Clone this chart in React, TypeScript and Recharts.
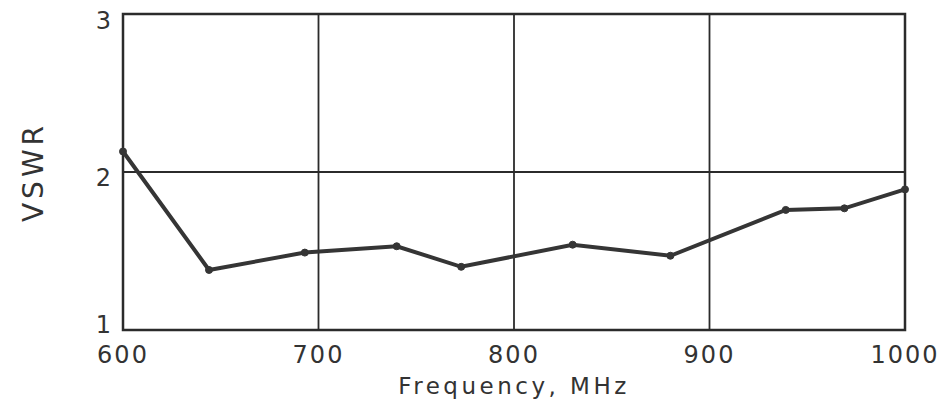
import { CartesianGrid, Label, Line, LineChart, ReferenceArea, XAxis, YAxis } from 'recharts'

// frequency in MHz, measured VSWR
const frequency = [600, 644, 693, 740, 773, 830, 880, 939, 969, 1000]
const vswr = [2.13, 1.38, 1.49, 1.53, 1.4, 1.54, 1.47, 1.76, 1.77, 1.89]

const freqTicks = [600, 700, 800, 900, 1000]
const vswrTicks = [1, 2, 3]

const data = frequency.map((f, i) => ({ f, v: vswr[i] }))

const ink = '#2b2b2b'
const font = '"DejaVu Sans", sans-serif'

// the lowest label sits a bit higher so it clears "600" below it
function VswrTick(props: any) {
  const { x, y, payload } = props
  const dy = payload.value === 1 ? -5 : payload.value === 3 ? 7 : 6
  return (
    <text x={x} y={y + dy} textAnchor="end" dominantBaseline="central" fill="#333" fontSize={24} fontFamily={font}>
      {payload.value}
    </text>
  )
}

export default function App() {
  return (
    <div style={{ position: 'absolute', left: 0, top: 0, background: '#fff' }}>
      <LineChart width={949} height={405} data={data} margin={{ top: 14, right: 44, bottom: 45, left: 0 }}>
        <CartesianGrid stroke={ink} strokeWidth={1.8} />
        <XAxis
          dataKey="f"
          type="number"
          domain={[600, 1000]}
          ticks={freqTicks}
          tickSize={0}
          tickMargin={16}
          axisLine={false}
          tick={{ fill: '#333', fontSize: 24, fontFamily: font, letterSpacing: 2 }}
          height={30}
        >
          <Label
            value="Frequency, MHz"
            position="bottom"
            offset={18}
            style={{ fill: '#333', fontSize: 23, fontFamily: font, letterSpacing: 3.5 }}
          />
        </XAxis>
        <YAxis
          type="number"
          domain={[1, 3]}
          ticks={vswrTicks}
          tickSize={0}
          tickMargin={12}
          axisLine={false}
          width={123}
          tick={<VswrTick />}
        >
          <Label
            content={(props: any) => {
              const vb = props.viewBox || { x: 0, y: 14, height: 316 }
              const cx = vb.x + 33
              const cy = vb.y + vb.height / 2
              return (
                <text
                  x={cx}
                  y={cy}
                  transform={`rotate(-90 ${cx} ${cy})`}
                  textAnchor="middle"
                  dominantBaseline="central"
                  fill="#333"
                  fontSize={28}
                  fontFamily={font}
                  letterSpacing={4}
                >
                  VSWR
                </text>
              )
            }}
          />
        </YAxis>
        <ReferenceArea x1={600} x2={1000} y1={1} y2={3} fill="none" stroke={ink} strokeWidth={2.5} />
        <Line
          dataKey="v"
          type="linear"
          stroke="#353535"
          strokeWidth={4}
          dot={{ r: 3.5, fill: '#353535', stroke: '#353535', strokeWidth: 1 }}
          isAnimationActive={false}
        />
      </LineChart>
    </div>
  )
}
